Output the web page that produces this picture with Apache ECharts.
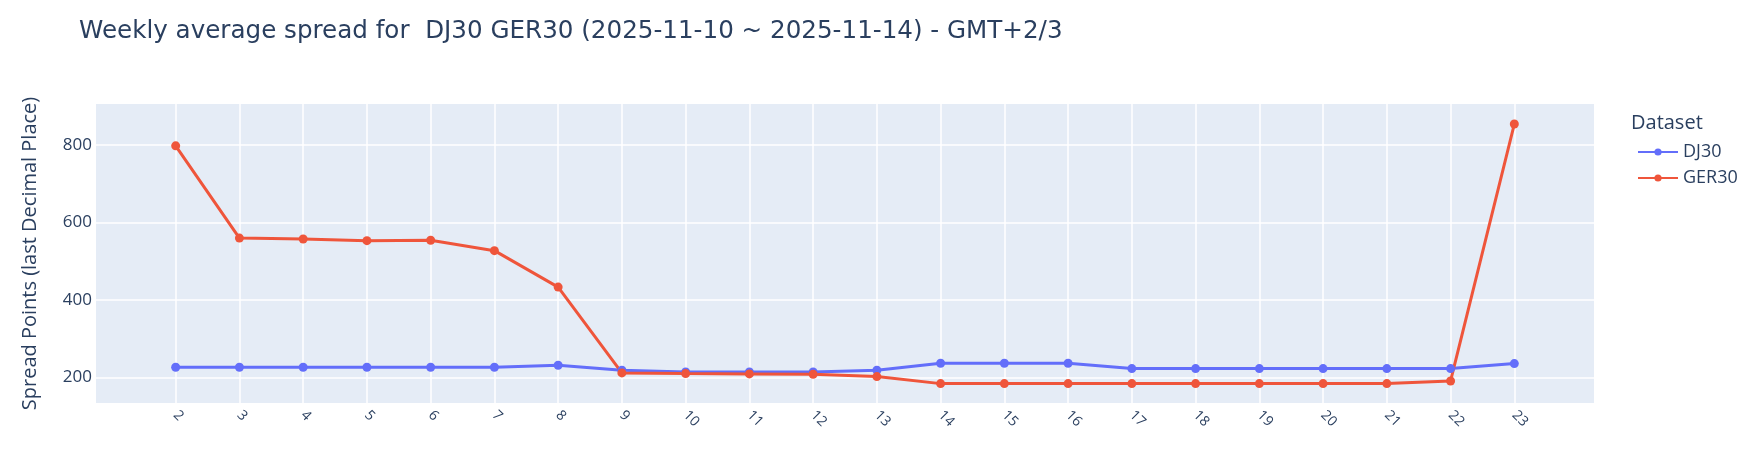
<!DOCTYPE html>
<html>
<head>
<meta charset="utf-8">
<script src="https://cdn.jsdelivr.net/npm/echarts@6/dist/echarts.min.js"></script>
<style>
html,body{margin:0;padding:0;background:#fff;}
#c{width:1755px;height:449px;}
</style>
</head>
<body>
<div id="c"></div>
<script>
const hours = [2,3,4,5,6,7,8,9,10,11,12,13,14,15,16,17,18,19,20,21,22,23];
const dj30 = [226.7,226.7,226.7,226.7,226.7,226.7,231.9,219,214.7,214.7,214.7,219,237,237,237,223.3,223.3,223.3,223.3,223.3,223.3,236.2];
const ger30 = [798,560,557.8,553.4,554.3,527.6,433.6,212.1,210.3,209.5,208.6,202.6,184.5,184.5,184.5,184.5,184.5,184.5,184.5,184.5,191.4,854.3];
const yTicks = [200,400,600,800];
const seriesNames = ['DJ30','GER30'];
const titleText = 'Weekly average spread for  DJ30 GER30 (2025-11-10 ~ 2025-11-14) - GMT+2/3';
const yTitle = 'Spread Points (last Decimal Place)';
const legendTitle = 'Dataset';

const FONT = '"Open Sans", sans-serif';
const TXT = '#2a3f5f';
const chart = echarts.init(document.getElementById('c'), null, {renderer:'canvas'});
const toPairs = arr => hours.map((h,i)=>[h,arr[i]]);
chart.setOption({
  animation:false,
  backgroundColor:'#fff',
  title:[
    {text:titleText,left:74,top:14,textStyle:{fontFamily:'"DejaVu Sans", Verdana, sans-serif',fontSize:24.6,fontWeight:'normal',color:'#2a3f5f'}},
    {text:legendTitle,left:1626,top:108,textStyle:{fontFamily:FONT,fontSize:20,fontWeight:'normal',color:TXT}}
  ],
  legend:{
    orient:'vertical',left:1632,top:138,itemWidth:40,itemHeight:9,itemGap:8,
    textStyle:{fontFamily:FONT,fontSize:18,color:TXT},
    data:seriesNames
  },
  grid:{left:96,right:161,top:104,bottom:46,show:true,backgroundColor:'#E5ECF6',borderWidth:0,containLabel:false},
  xAxis:{
    type:'value',min:0.75,max:24.25,
    axisLine:{show:false},axisTick:{show:false,customValues:hours},
    axisLabel:{customValues:hours,rotate:-45,margin:10,fontFamily:FONT,fontSize:14,color:TXT},
    splitLine:{show:true,lineStyle:{color:'#fff',width:1.5}}
  },
  yAxis:{
    type:'value',min:134.5,max:906,
    name:yTitle,nameLocation:'middle',nameGap:56,nameRotate:90,
    nameTextStyle:{fontFamily:FONT,fontSize:20,color:TXT},
    axisLine:{show:false},axisTick:{show:false,customValues:yTicks},
    axisLabel:{customValues:yTicks,margin:4,fontFamily:FONT,fontSize:17,color:TXT},
    splitLine:{show:true,lineStyle:{color:'#fff',width:1.5}}
  },
  series:[
    {name:seriesNames[0],type:'line',data:toPairs(dj30),symbol:'circle',symbolSize:9,
     lineStyle:{color:'#636efa',width:3},itemStyle:{color:'#636efa'}},
    {name:seriesNames[1],type:'line',data:toPairs(ger30),symbol:'circle',symbolSize:9,
     lineStyle:{color:'#EF553B',width:3},itemStyle:{color:'#EF553B'}}
  ]
});
</script>
</body>
</html>
